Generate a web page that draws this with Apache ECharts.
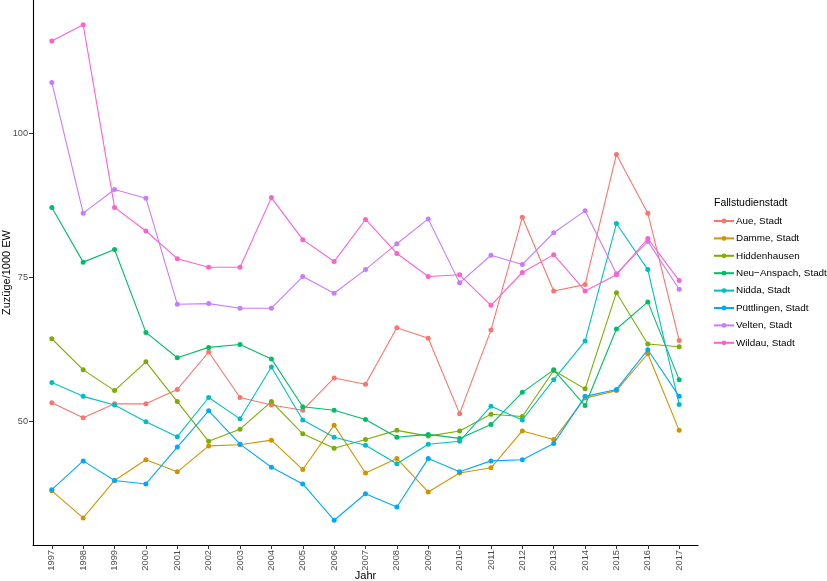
<!DOCTYPE html>
<html><head><meta charset="utf-8">
<script src="https://cdn.jsdelivr.net/npm/echarts@6/dist/echarts.min.js"></script>
<style>html,body{margin:0;padding:0;background:#fff}#c{width:827px;height:581px}</style>
</head><body><div id="c"></div>
<script>
const years = [1997,1998,1999,2000,2001,2002,2003,2004,2005,2006,2007,2008,2009,2010,2011,2012,2013,2014,2015,2016,2017];
const cities = ["Aue, Stadt","Damme, Stadt","Hiddenhausen","Neu\u2212Anspach, Stadt","Nidda, Stadt","P\u00fcttlingen, Stadt","Velten, Stadt","Wildau, Stadt"];
const colors = ["#F8766D","#CD9600","#7CAE00","#00BE67","#00BFC4","#00A9FF","#C77CFF","#FF61CC"];
const aue        = [53.3,50.7,53.1,53.1,55.6,62.1,54.2,52.9,52.0,57.6,56.5,66.3,64.5,51.4,65.9,85.5,72.7,73.8,96.4,86.2,64.1];
const damme      = [38.0,33.3,39.8,43.4,41.3,45.8,46.0,46.8,41.7,49.4,41.1,43.6,37.8,41.1,42.0,48.4,46.9,54.1,55.4,61.8,48.5];
const hiddenh    = [64.4,59.0,55.4,60.4,53.5,46.6,48.7,53.5,47.9,45.4,46.9,48.5,47.5,48.4,51.3,50.9,58.9,55.7,72.4,63.5,63.0];
const neuanspach = [87.2,77.7,79.9,65.5,61.1,62.9,63.4,60.9,52.6,52.0,50.4,47.3,47.8,47.1,49.5,55.1,59.0,52.8,66.1,70.8,57.3];
const nidda      = [56.8,54.4,52.9,50.0,47.4,54.2,50.5,59.5,50.3,47.3,45.9,42.7,46.1,46.6,52.7,50.3,57.3,64.0,84.4,76.4,53.0];
const puettlingen= [38.2,43.2,39.8,39.2,45.6,51.9,46.1,42.1,39.2,32.9,37.5,35.2,43.6,41.3,43.2,43.4,46.2,54.4,55.6,62.5,54.4];
const velten     = [108.9,86.2,90.3,88.8,70.4,70.5,69.7,69.7,75.2,72.3,76.4,80.9,85.2,74.1,78.9,77.3,82.8,86.6,75.7,81.3,73.0];
const wildau     = [116.1,118.9,87.2,83.1,78.3,76.8,76.8,88.9,81.6,77.8,85.1,79.2,75.2,75.5,70.2,75.9,79.0,72.7,75.5,81.8,74.5];
const allValues = [aue,damme,hiddenh,neuanspach,nidda,puettlingen,velten,wildau];
const yTicks = [50,75,100];

const FONT = '"Liberation Sans", Arial, Helvetica, sans-serif';
const chart = echarts.init(document.getElementById('c'), null, {renderer:'canvas'});
const series = cities.map((name,i)=>({
  name, type:'line',
  data: years.map((y,j)=>[y, allValues[i][j]]),
  symbol:'circle', symbolSize:5, showSymbol:true,
  lineStyle:{width:1.1, color:colors[i]},
  itemStyle:{color:colors[i]},
  emphasis:{disabled:true},
  animation:false, z: 2+i
}));
chart.setOption({
  animation:false,
  textStyle:{fontFamily:FONT},
  title:{text:'Fallstudienstadt', left:709, top:193, textStyle:{fontFamily:FONT, fontSize:10.5, fontWeight:'normal', color:'#000'}},
  legend:{
    orient:'vertical', left:708, top:211, itemWidth:20, itemHeight:6, itemGap:7.4,
    data: cities,
    textStyle:{fontFamily:FONT, fontSize:9.9, color:'#000', padding:[0,0,0,-3]},
    selectedMode:false
  },
  grid:{left:33, right:129, top:0, bottom:36, containLabel:false, outerBoundsMode:'none'},
  xAxis:{
    type:'value', min:1996.4, max:2017.6,
    name:'Jahr', nameLocation:'middle', nameGap:25, nameMoveOverlap:false,
    nameTextStyle:{fontFamily:FONT, fontSize:11, color:'#000'},
    axisLine:{show:true, onZero:false, lineStyle:{color:'#000', width:1.1}},
    axisTick:{show:true, length:4, customValues:years, lineStyle:{color:'#333', width:1}},
    axisLabel:{show:true, customValues:years, rotate:90, fontSize:9.3, color:'#4D4D4D', margin:5, fontFamily:FONT, formatter:v=>String(v)},
    splitLine:{show:false}
  },
  yAxis:{
    type:'value', min:28.6, max:123.2,
    name:'Zuz\u00fcge/1000 EW', nameLocation:'middle', nameGap:21, nameRotate:90, nameMoveOverlap:false,
    nameTextStyle:{fontFamily:FONT, fontSize:11, color:'#000'},
    axisLine:{show:true, onZero:false, lineStyle:{color:'#000', width:1.1}},
    axisTick:{show:true, length:4, customValues:yTicks, lineStyle:{color:'#333', width:1}},
    axisLabel:{show:true, customValues:yTicks, fontSize:9.2, color:'#4D4D4D', margin:5, fontFamily:FONT},
    splitLine:{show:false}
  },
  series
});
</script></body></html>
